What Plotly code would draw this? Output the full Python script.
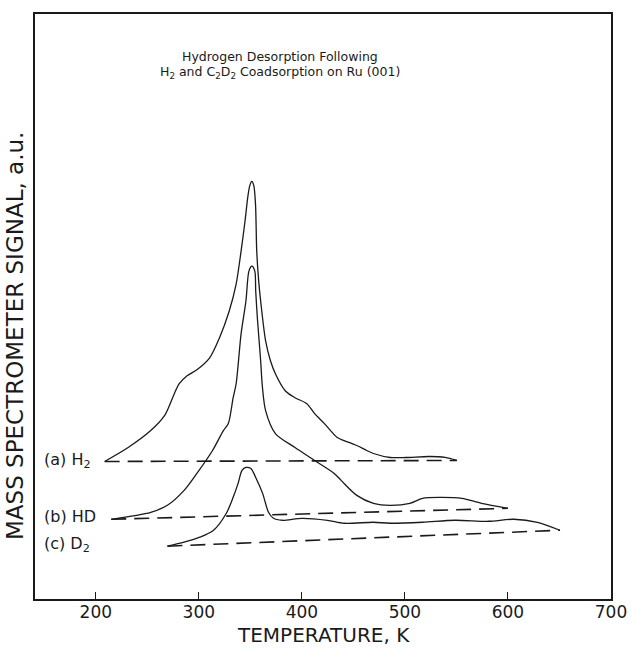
import plotly.graph_objects as go

# Temperature (K) and signal (a.u.)
a_temp = [208.6, 231.4, 253.3, 266.7, 271.4, 276.2, 281.0, 288.6, 298.1, 310.5, 320.0,
          329.5, 336.2, 341.0, 344.8, 347.6, 349.5, 351.4, 353.3, 355.0, 356.2, 358.1,
          360.0, 364.8, 369.5, 374.3, 383.8, 393.3, 404.8, 412.4, 421.9, 434.3, 441.0,
          453.3, 462.9, 469.5, 485.7, 501.0, 523.8, 539.0, 550.5]
a_signal = [13.8, 15.2, 16.9, 18.4, 19.4, 20.6, 21.6, 22.4, 23.0, 24.2, 26.2,
            28.9, 31.6, 34.9, 37.9, 40.4, 41.5, 41.9, 41.5, 39.6, 34.9, 31.9,
            29.9, 25.9, 23.9, 22.6, 20.9, 20.2, 19.6, 18.6, 17.6, 16.2, 15.9,
            15.4, 14.9, 14.6, 14.2, 14.2, 14.3, 14.2, 13.9]

b_temp = [215.0, 253.3, 269.5, 285.7, 298.1, 313.3, 323.8, 328.6, 333.3, 336.2, 341.0,
          345.7, 348.6, 351.4, 354.3, 355.2, 356.8, 360.0, 361.6, 364.8, 374.3, 393.3,
          412.4, 431.4, 438.1, 453.3, 469.5, 485.7, 504.8, 517.1, 533.3, 555.2, 574.3, 600.0]
b_signal = [8.0, 8.7, 9.4, 10.9, 12.6, 14.9, 16.9, 17.6, 20.2, 21.6, 26.6,
            29.9, 32.9, 33.4, 32.9, 30.9, 28.2, 23.9, 21.4, 18.9, 16.6, 15.2,
            13.9, 12.6, 11.9, 10.4, 9.6, 9.4, 9.6, 10.1, 10.2, 10.1, 9.6, 9.1]

c_temp = [269.5, 285.7, 301.0, 314.3, 326.7, 333.3, 338.1, 341.9, 345.7, 350.5, 355.2,
          361.9, 367.6, 372.4, 381.0, 400.0, 424.8, 441.0, 469.5, 485.7, 517.1, 548.6,
          581.0, 605.7, 628.6, 650.5]
c_signal = [5.3, 5.7, 6.2, 6.9, 8.6, 10.2, 11.6, 12.9, 13.2, 13.1, 12.2,
            10.6, 8.7, 8.1, 7.9, 8.1, 7.9, 7.6, 7.7, 7.6, 7.7, 7.9,
            7.8, 8.0, 7.7, 6.9]

labels = ["(a) H<sub>2</sub>", "(b) HD", "(c) D<sub>2</sub>"]
label_y = [13.9, 8.3, 5.5]
x_ticks = [200, 300, 400, 500, 600, 700]

FONT = "DejaVu Sans"
INK = "#1a1a1a"

fig = go.Figure()

for t, s in [(a_temp, a_signal), (b_temp, b_signal), (c_temp, c_signal)]:
    # desorption trace
    fig.add_trace(go.Scatter(
        x=t, y=s, mode="lines",
        line=dict(color=INK, width=1.3, shape="spline", smoothing=0.8),
        hoverinfo="skip",
    ))
    # dashed background line joining the two ends
    fig.add_trace(go.Scatter(
        x=[t[0], t[-1]], y=[s[0], s[-1]], mode="lines",
        line=dict(color=INK, width=1.6, dash="15px,8px"),
        hoverinfo="skip",
    ))

for lab, y in zip(labels, label_y):
    fig.add_annotation(x=148.0, y=y, text=lab, showarrow=False,
                       xanchor="left", yanchor="middle",
                       font=dict(family=FONT, size=16, color=INK))

fig.add_annotation(xref="paper", yref="paper", x=0.426, y=0.928,
                   text="Hydrogen Desorption Following", showarrow=False,
                   xanchor="center", yanchor="middle",
                   font=dict(family=FONT, size=12.5, color=INK))
fig.add_annotation(xref="paper", yref="paper", x=0.426, y=0.900,
                   text="H<sub>2</sub> and C<sub>2</sub>D<sub>2</sub> Coadsorption on Ru (001)",
                   showarrow=False, xanchor="center", yanchor="middle",
                   font=dict(family=FONT, size=12.5, color=INK))

# axis titles placed by hand
fig.add_annotation(xref="paper", yref="paper", x=0.50, y=-0.0835,
                   text="TEMPERATURE, K", showarrow=False,
                   xanchor="center", yanchor="bottom", borderpad=0,
                   font=dict(family=FONT, size=20, color=INK))
fig.add_annotation(xref="paper", yref="paper", x=-0.036, y=0.45,
                   text="MASS SPECTROMETER SIGNAL, a.u.", showarrow=False,
                   textangle=-90, xanchor="center", yanchor="middle",
                   font=dict(family=FONT, size=23, color=INK))

fig.update_layout(
    width=639, height=648,
    margin=dict(l=35, r=17, t=12, b=49),
    paper_bgcolor="white", plot_bgcolor="white",
    showlegend=False,
)
fig.update_xaxes(
    range=[141, 700], tickvals=x_ticks, ticklabeloverflow="allow",
    ticklabelstandoff=-3,
    ticks="inside", ticklen=7, tickcolor=INK, tickwidth=1.2,
    showline=True, linecolor=INK, linewidth=1.8, mirror=True,
    showgrid=False, zeroline=False,
    tickfont=dict(family=FONT, size=17, color=INK),
)
fig.update_yaxes(
    range=[0, 58.7], showticklabels=False, ticks="",
    showline=True, linecolor=INK, linewidth=1.8, mirror=True,
    showgrid=False, zeroline=False,
)

# drop the page's default body margin so the 639x648 figure fills the window
fig.write_html("out.html",
               config={"displayModeBar": False},
               post_script="document.body.style.margin='0px';"
                           "document.body.style.overflow='hidden';")
